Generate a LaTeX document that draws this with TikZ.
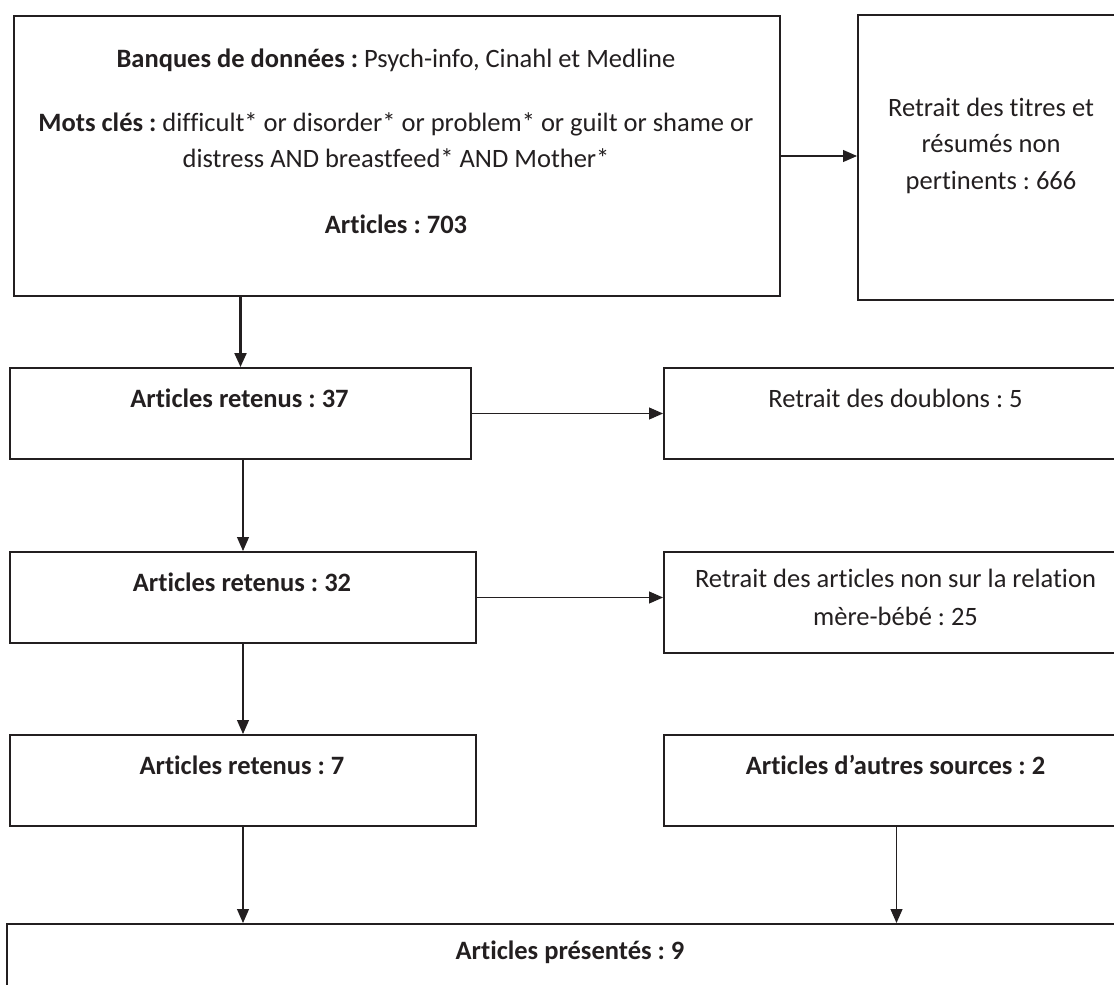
\documentclass[tikz,border=0pt]{standalone}
\usepackage{fontspec}
\setmainfont{Carlito}[Ligatures={NoCommon}]
\usetikzlibrary{arrows.meta}
\definecolor{ink}{HTML}{231F20}
\frenchspacing
\begin{document}
\begin{tikzpicture}[x=1pt,y=-1pt,
  box/.style={draw=ink, line width=2pt, rectangle, inner sep=0pt, anchor=north west},
  txt/.style={text=ink, font=\fontsize{26.5}{36}\selectfont, inner sep=0pt, anchor=base},
  arr/.style={draw=ink, line width=1.1pt, -{Triangle[length=14pt,width=12pt]}},
  arrthick/.style={arr, line width=2.2pt},
]
\useasboundingbox (0,0) rectangle (1114,985);
\clip (0,0) rectangle (1114,985);
\fill[white] (0,0) rectangle (1114,985);

% boxes
\node[box, minimum width=766pt, minimum height=280pt] (a) at (13,15) {};
\node[box, minimum width=268pt, minimum height=285pt] (b) at (857,14) {};
\node[box, minimum width=461pt, minimum height=91pt] (c) at (9,367) {};
\node[box, minimum width=465pt, minimum height=91pt] (d) at (663,367) {};
\node[box, minimum width=466pt, minimum height=91pt] (e) at (9,551) {};
\node[box, minimum width=465pt, minimum height=101pt] (f) at (663,551) {};
\node[box, minimum width=466pt, minimum height=91pt] (g) at (9,734) {};
\node[box, minimum width=465pt, minimum height=91pt] (h) at (663,734) {};
\node[box, minimum width=1128pt, minimum height=120pt] (i) at (6,923) {};

% texts
\node[txt] (a1) at (396,67) {\textbf{Banques de données :} Psych-info, Cinahl et Medline};
\node[txt] (a2) at (396,131) {\textbf{Mots clés :} difficult* or disorder* or problem* or guilt or shame or};
\node[txt] (a3) at (396,167) {distress AND breastfeed* AND Mother*};
\node[txt] (a4) at (396,233) {\textbf{Articles : 703}};

\node[txt] (b1) at (991,116) {Retrait des titres et};
\node[txt] (b2) at (991,152) {résumés non};
\node[txt] (b3) at (991,189) {pertinents : 666};

\node[txt] (c1) at (239.5,407) {\textbf{Articles retenus : 37}};
\node[txt] (d1) at (895.5,407) {Retrait des doublons : 5};
\node[txt] (e1) at (242,591) {\textbf{Articles retenus : 32}};
\node[txt] (f1) at (895.5,587) {Retrait des articles non sur la relation};
\node[txt] (f2) at (895.5,625) {mère-bébé : 25};
\node[txt] (g1) at (242,774) {\textbf{Articles retenus : 7}};
\node[txt] (h1) at (895.5,774) {\textbf{Articles d’autres sources : 2}};
\node[txt] (i1) at (570,959) {\textbf{Articles présentés : 9}};

% connectors
\draw[arr] (a.east) -- (a.east -| b.west);
\draw[arrthick] (a.south -| c.north) -- (c.north);
\draw[arr] (c.east) -- (c.east -| d.west);
\draw[arr] (c.south -| e.north) -- (e.north);
\draw[arr] (e.east) -- (e.east -| f.west);
\draw[arr] (e.south) -- (g.north);
\draw[arr] (g.south) -- (g.south |- i.north);
\draw[arr] (h.south) -- (h.south |- i.north);
\end{tikzpicture}
\end{document}
